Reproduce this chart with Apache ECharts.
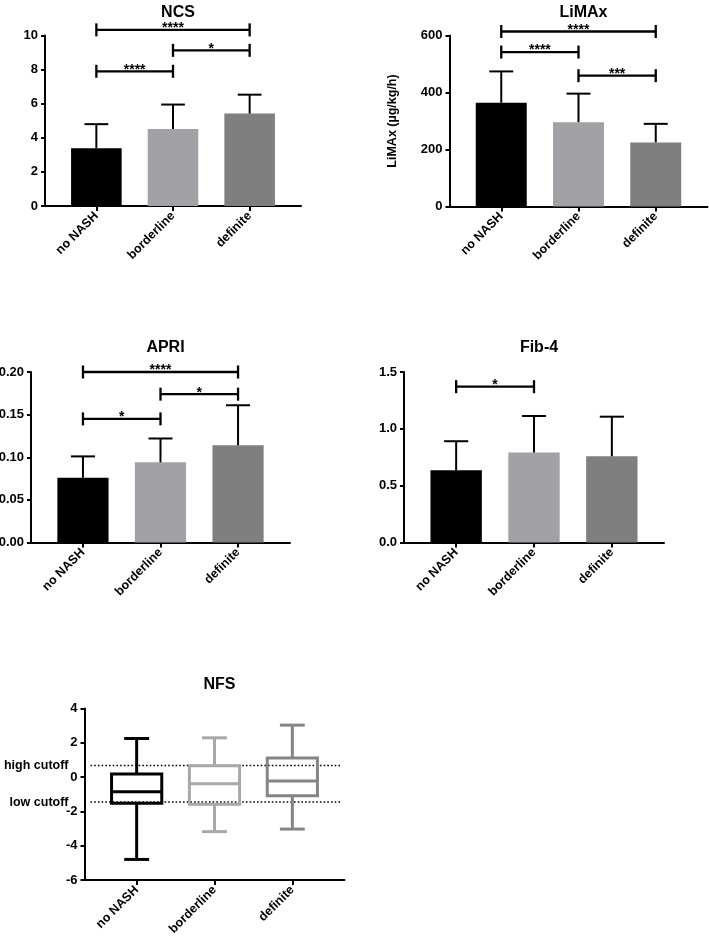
<!DOCTYPE html>
<html>
<head>
<meta charset="utf-8">
<script src="https://cdn.jsdelivr.net/npm/echarts@6.0.0/dist/echarts.min.js"></script>
<style>
html,body{margin:0;padding:0;background:#fff;}
#chart{width:709px;height:943px;}
</style>
</head>
<body>
<div id="chart"></div>
<script>
// ---------------- data ----------------
const categories = ['no NASH', 'borderline', 'definite'];

const ncsMean = [3.39, 4.52, 5.42];
const ncsSD = [1.41, 1.43, 1.11];
const ncsTicks = [0, 2, 4, 6, 8, 10];
const ncsSigPairs = [[0, 2], [1, 2], [0, 1]];
const ncsSigY = [10.33, 9.13, 7.9];
const ncsSigLabels = ['****', '*', '****'];

const limaxMean = [364, 296, 225];
const limaxSD = [110, 100, 65];
const limaxTicks = [0, 200, 400, 600];
const limaxSigPairs = [[0, 2], [0, 1], [1, 2]];
const limaxSigY = [614, 542, 459];
const limaxSigLabels = ['****', '****', '***'];

const apriMean = [0.076, 0.094, 0.114];
const apriSD = [0.025, 0.028, 0.047];
const apriTicks = [0, 0.05, 0.10, 0.15, 0.20];
const apriSigPairs = [[0, 2], [1, 2], [0, 1]];
const apriSigY = [0.200, 0.174, 0.145];
const apriSigLabels = ['****', '*', '*'];

const fibMean = [0.636, 0.791, 0.759];
const fibSD = [0.255, 0.322, 0.348];
const fibTicks = [0, 0.5, 1.0, 1.5];
const fibSigPairs = [[0, 1]];
const fibSigY = [1.371];
const fibSigLabels = ['*'];

// NFS box plot: [min, Q1, median, Q3, max]
const nfsBox = [
  [-4.80, -1.53, -0.85, 0.18, 2.25],
  [-3.18, -1.59, -0.39, 0.66, 2.29],
  [-3.03, -1.09, -0.23, 1.11, 3.03]
];
const nfsTicks = [-6, -4, -2, 0, 2, 4];
const nfsCutoffs = [0.676, -1.455];
const nfsCutoffLabels = ['high cutoff', 'low cutoff'];

// ---------------- styles ----------------
const FONT = '"Liberation Sans", Arial, Helvetica, sans-serif';
const barColors = ['#000000', '#a2a2a6', '#7f7f7f'];
const boxColors = ['#000000', '#a8a8a8', '#858585'];
const XMIN = -0.67, XMAX = 2.67;
const BAR_W = 0.66, CAP_W = 0.31, BOX_W = 0.645, WHISK_W = 0.32;

const grids = [
  {left: 45, top: 35.5, width: 256, height: 170.5},     // NCS
  {left: 449.5, top: 35.5, width: 258, height: 171},    // LiMAx
  {left: 31, top: 372, width: 259, height: 170.5},      // APRI
  {left: 404, top: 372, width: 260, height: 170.5},     // Fib-4
  {left: 84.5, top: 708.5, width: 260, height: 171.5}   // NFS
];
const titles = ['NCS', 'LiMAx', 'APRI', 'Fib-4', 'NFS'];
const titleTops = [0, 0, 335, 335, 672];

const axisLineStyle = {color: '#000', width: 2};

function xAxisCfg(gi) {
  const pos = categories.map((c, i) => i);
  return {
    type: 'value', gridIndex: gi, min: XMIN, max: XMAX,
    splitLine: {show: false},
    axisLine: {show: true, onZero: false, lineStyle: axisLineStyle},
    axisTick: {show: true, customValues: pos, length: 5, lineStyle: axisLineStyle},
    axisLabel: {
      customValues: pos, formatter: v => categories[Math.round(v)],
      rotate: 45, margin: 8, color: '#000', fontWeight: 'bold', fontSize: 12.5, fontFamily: FONT
    }
  };
}
function yAxisCfg(gi, ticks, dec, name) {
  const cfg = {
    type: 'value', gridIndex: gi, min: ticks[0], max: ticks[ticks.length - 1],
    interval: ticks[1] - ticks[0],
    splitLine: {show: false},
    axisLine: {show: true, onZero: false, lineStyle: axisLineStyle},
    axisTick: {show: true, length: 4, lineStyle: axisLineStyle},
    axisLabel: {formatter: v => v.toFixed(dec), margin: 7, color: '#000', fontWeight: 'bold', fontSize: 13, fontFamily: FONT}
  };
  if (name) {
    cfg.name = name;
    cfg.nameLocation = 'middle';
    cfg.nameGap = 50;
    cfg.nameTextStyle = {color: '#000', fontWeight: 'bold', fontSize: 12.5, fontFamily: FONT};
  }
  return cfg;
}

function renderBar(params, api) {
  const i = api.value(0), v = api.value(1);
  const top = api.coord([i, v]);
  const base = api.coord([i, 0]);
  const w = api.size([BAR_W, 0])[0];
  return {type: 'rect', shape: {x: top[0] - w / 2, y: top[1], width: w, height: base[1] - top[1]},
          style: {fill: barColors[i]}};
}
function renderErr(params, api) {
  const i = api.value(0), m = api.value(1), hi = api.value(2);
  const a = api.coord([i, m]), b = api.coord([i, hi]);
  const cw = api.size([CAP_W, 0])[0];
  const st = {stroke: '#000', lineWidth: 2};
  return {type: 'group', children: [
    {type: 'line', shape: {x1: a[0], y1: a[1], x2: b[0], y2: b[1]}, style: st},
    {type: 'line', shape: {x1: b[0] - cw / 2, y1: b[1], x2: b[0] + cw / 2, y2: b[1]}, style: st}
  ]};
}
function makeBracketRenderer(labels) {
  return function (params, api) {
    const p1 = api.coord([api.value(0), api.value(2)]);
    const p2 = api.coord([api.value(1), api.value(2)]);
    const y = p1[1];
    const h = 6.5;
    const st = {stroke: '#000', lineWidth: 2.3};
    return {type: 'group', children: [
      {type: 'line', shape: {x1: p1[0], y1: y, x2: p2[0], y2: y}, style: st},
      {type: 'line', shape: {x1: p1[0], y1: y - h, x2: p1[0], y2: y + h}, style: st},
      {type: 'line', shape: {x1: p2[0], y1: y - h, x2: p2[0], y2: y + h}, style: st},
      {type: 'text', x: (p1[0] + p2[0]) / 2, y: y - 1.5,
       style: {text: labels[params.dataIndex], fill: '#000', font: 'bold 14px ' + FONT,
               align: 'center', verticalAlign: 'middle'}}
    ]};
  };
}
function renderBox(params, api) {
  const i = api.value(0);
  const mn = api.value(1), q1 = api.value(2), md = api.value(3), q3 = api.value(4), mx = api.value(5);
  const c = v => api.coord([i, v]);
  const bw = api.size([BOX_W, 0])[0];
  const cw = api.size([WHISK_W, 0])[0];
  const x = c(md)[0];
  const col = boxColors[i];
  const st = {stroke: col, lineWidth: 3, fill: null};
  const yMin = c(mn)[1], yQ1 = c(q1)[1], yMd = c(md)[1], yQ3 = c(q3)[1], yMx = c(mx)[1];
  return {type: 'group', children: [
    {type: 'line', shape: {x1: x, y1: yQ3, x2: x, y2: yMx}, style: st},
    {type: 'line', shape: {x1: x - cw / 2, y1: yMx, x2: x + cw / 2, y2: yMx}, style: st},
    {type: 'line', shape: {x1: x, y1: yQ1, x2: x, y2: yMin}, style: st},
    {type: 'line', shape: {x1: x - cw / 2, y1: yMin, x2: x + cw / 2, y2: yMin}, style: st},
    {type: 'rect', shape: {x: x - bw / 2, y: yQ3, width: bw, height: yQ1 - yQ3}, style: {stroke: col, lineWidth: 3, fill: 'rgba(0,0,0,0)'}},
    {type: 'line', shape: {x1: x - bw / 2, y1: yMd, x2: x + bw / 2, y2: yMd}, style: st}
  ]};
}
function renderCutoff(params, api) {
  const cs = params.coordSys;
  const y = api.coord([0, api.value(1)])[1];
  return {type: 'group', children: [
    {type: 'line', shape: {x1: cs.x + 6, y1: y, x2: cs.x + cs.width - 4, y2: y},
     style: {stroke: '#000', lineWidth: 1.6, lineDash: [1.6, 2.1]}},
    {type: 'text', x: cs.x - 16, y: y,
     style: {text: nfsCutoffLabels[params.dataIndex], fill: '#000', font: 'bold 12.5px ' + FONT,
             align: 'right', verticalAlign: 'middle'}}
  ]};
}

function barPanelSeries(gi, mean, sd, pairs, sigY, labels) {
  return [
    {type: 'custom', xAxisIndex: gi, yAxisIndex: gi, renderItem: renderBar, z: 2,
     data: mean.map((m, i) => [i, m])},
    {type: 'custom', xAxisIndex: gi, yAxisIndex: gi, renderItem: renderErr, z: 3,
     data: mean.map((m, i) => [i, m, m + sd[i]])},
    {type: 'custom', xAxisIndex: gi, yAxisIndex: gi, renderItem: makeBracketRenderer(labels), z: 4,
     data: pairs.map((p, k) => [p[0], p[1], sigY[k]])}
  ];
}

const series = [].concat(
  barPanelSeries(0, ncsMean, ncsSD, ncsSigPairs, ncsSigY, ncsSigLabels),
  barPanelSeries(1, limaxMean, limaxSD, limaxSigPairs, limaxSigY, limaxSigLabels),
  barPanelSeries(2, apriMean, apriSD, apriSigPairs, apriSigY, apriSigLabels),
  barPanelSeries(3, fibMean, fibSD, fibSigPairs, fibSigY, fibSigLabels),
  [
    {type: 'custom', xAxisIndex: 4, yAxisIndex: 4, renderItem: renderCutoff, z: 2,
     data: nfsCutoffs.map(v => [0, v])},
    {type: 'custom', xAxisIndex: 4, yAxisIndex: 4, renderItem: renderBox, z: 3,
     data: nfsBox.map((b, i) => [i].concat(b))}
  ]
);

const option = {
  backgroundColor: '#fff',
  animation: false,
  title: titles.map((t, k) => ({
    text: t,
    left: grids[k].left + (1 - XMIN) / (XMAX - XMIN) * grids[k].width,
    top: titleTops[k],
    textAlign: 'center',
    textStyle: {color: '#000', fontWeight: 'bold', fontSize: 16, fontFamily: FONT}
  })),
  grid: grids.map(g => Object.assign({containLabel: false, outerBoundsMode: 'none'}, g)),
  xAxis: [0, 1, 2, 3, 4].map(xAxisCfg),
  yAxis: [
    yAxisCfg(0, ncsTicks, 0),
    yAxisCfg(1, limaxTicks, 0, 'LiMAx (µg/kg/h)'),
    yAxisCfg(2, apriTicks, 2),
    yAxisCfg(3, fibTicks, 1),
    yAxisCfg(4, nfsTicks, 0)
  ],
  series: series
};

const chart = echarts.init(document.getElementById('chart'), null, {renderer: 'canvas'});
chart.setOption(option);
</script>
</body>
</html>
